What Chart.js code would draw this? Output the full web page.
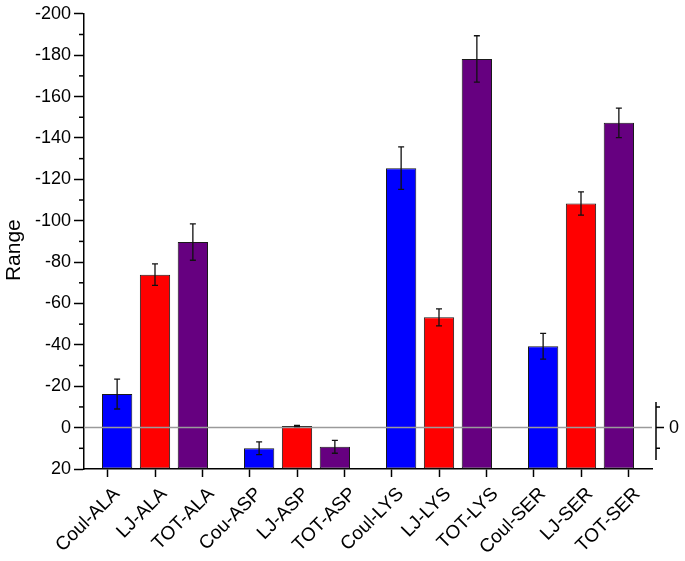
<!DOCTYPE html>
<html>
<head>
<meta charset="utf-8">
<script src="https://cdn.jsdelivr.net/npm/chart.js@4/dist/chart.umd.min.js"></script>
<style>
    html, body { margin: 0; padding: 0; background: #fff; }
    canvas { display: block; }
</style>
</head>
<body>
<canvas id="rangeChart" width="685" height="561"></canvas>
<script>
// --- data ---
const labels = ['Coul-ALA', 'LJ-ALA', 'TOT-ALA', 'Cou-ASP', 'LJ-ASP', 'TOT-ASP',
    'Coul-LYS', 'LJ-LYS', 'TOT-LYS', 'Coul-SER', 'LJ-SER', 'TOT-SER'];
const groups = ['ALA', 'ASP', 'LYS', 'SER'];
const coulVals = [-16.2, 10.0, -125.4, -39.3];
const ljVals = [-73.9, -0.8, -53.3, -108.3];
const totVals = [-89.7, 9.3, -178.2, -147.3];
const coulErr = [7.2, 3.1, 10.3, 6.2];
const ljErr = [5.2, 0.3, 4.1, 5.6];
const totErr = [8.8, 3.1, 11.2, 7.1];
const yMin = -200, yMax = 20, yStep = 20;
const rightTicks = [-10, 0, 10];

(function () {
    const FONT = "'Liberation Sans', Arial, sans-serif";

    // each group sits on the middle label of its three
    const spread = arr => labels.map((_, i) => i % 3 === 1 ? arr[(i - 1) / 3] : null);

    const mkSet = (name, vals, errs, color) => ({
        label: name,
        data: spread(vals),
        errors: spread(errs),
        base: yMax,               // columns rise from the bottom of the axis
        backgroundColor: color,
        borderColor: '#1a1a1a',
        borderWidth: 1,
        borderSkipped: false,
        categoryPercentage: 2.4,
        barPercentage: 0.8
    });

    const extras = {
        id: 'extras',
        afterDatasetsDraw(chart) {
            const ctx = chart.ctx;
            const y = chart.scales.y;
            const area = chart.chartArea;
            ctx.save();

            // zero line
            const y0 = y.getPixelForValue(0);
            ctx.strokeStyle = '#9a9a9a';
            ctx.lineWidth = 1.5;
            ctx.beginPath();
            ctx.moveTo(area.left, y0);
            ctx.lineTo(area.right, y0);
            ctx.stroke();

            // error bars
            ctx.strokeStyle = '#111';
            ctx.lineWidth = 1.3;
            chart.data.datasets.forEach((ds, i) => {
                const meta = chart.getDatasetMeta(i);
                meta.data.forEach((el, j) => {
                    const v = ds.data[j], e = ds.errors[j];
                    if (v == null || e == null) return;
                    const a = y.getPixelForValue(v - e);
                    const b = y.getPixelForValue(v + e);
                    ctx.beginPath();
                    ctx.moveTo(el.x, a); ctx.lineTo(el.x, b);
                    ctx.moveTo(el.x - 3, a); ctx.lineTo(el.x + 3, a);
                    ctx.moveTo(el.x - 3, b); ctx.lineTo(el.x + 3, b);
                    ctx.stroke();
                });
            });

            // minor y ticks
            ctx.strokeStyle = '#000';
            ctx.lineWidth = 1.5;
            for (let v = yMin + yStep / 2; v < yMax; v += yStep) {
                const py = y.getPixelForValue(v);
                ctx.beginPath();
                ctx.moveTo(area.left - 5, py);
                ctx.lineTo(area.left, py);
                ctx.stroke();
            }

            // small right axis around zero
            const rx = area.right + 4;
            ctx.beginPath();
            ctx.moveTo(rx, y.getPixelForValue(-12.4));
            ctx.lineTo(rx, y.getPixelForValue(15.7));
            rightTicks.forEach(t => {
                const py = y.getPixelForValue(t);
                ctx.moveTo(rx, py);
                ctx.lineTo(rx + (t === 0 ? 8 : 4), py);
            });
            ctx.stroke();
            ctx.fillStyle = '#000';
            ctx.font = '18px ' + FONT;
            ctx.textAlign = 'left';
            ctx.textBaseline = 'middle';
            ctx.fillText('0', rx + 13, y0);

            ctx.restore();
        }
    };

    new Chart(document.getElementById('rangeChart'), {
        type: 'bar',
        data: {
            labels,
            datasets: [
                mkSet('Coul', coulVals, coulErr, '#0000ff'),
                mkSet('LJ', ljVals, ljErr, '#ff0000'),
                mkSet('TOT', totVals, totErr, '#660080')
            ]
        },
        options: {
            responsive: false,
            animation: false,
            devicePixelRatio: 1,
            layout: { padding: { left: 0, right: 33, top: 13, bottom: 0 } },
            plugins: { legend: { display: false }, tooltip: { enabled: false } },
            scales: {
                x: {
                    grid: { display: true, drawOnChartArea: false, offset: false, tickLength: 8, tickColor: '#000', tickWidth: 1.5 },
                    border: { color: '#000', width: 1.5 },
                    ticks: {
                        autoSkip: false, minRotation: 45, maxRotation: 45,
                        color: '#000', font: { family: FONT, size: 19 }, padding: 6, labelOffset: 9
                    },
                    afterFit: s => { s.height = 92; }
                },
                y: {
                    reverse: true,
                    min: yMin,
                    max: yMax,
                    grid: { drawOnChartArea: false, tickLength: 10, tickColor: '#000', tickWidth: 1.5 },
                    border: { color: '#000', width: 1.5 },
                    ticks: {
                        stepSize: yStep, color: '#000', padding: 3,
                        font: { family: FONT, size: 18 },
                        callback: v => String(v)
                    },
                    title: { display: true, text: 'Range   ', color: '#000', font: { family: FONT, size: 21 }, padding: 2 },
                    afterFit: s => { s.width = 84; }
                }
            }
        },
        plugins: [extras]
    });
})();
</script>
</body>
</html>
